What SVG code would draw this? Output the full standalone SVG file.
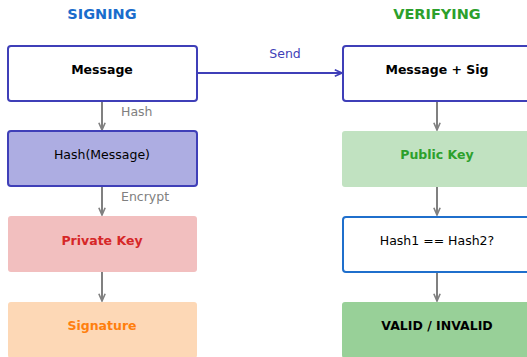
<svg xmlns="http://www.w3.org/2000/svg" width="527" height="357" viewBox="0 0 527 357">
  <defs>
    <style>
      text { font-family: "DejaVu Sans", sans-serif; text-anchor: middle; dominant-baseline: central; }
      .title { font-size: 14.5px; font-weight: bold; }
      .lbl { font-size: 12.5px; }
      .b { font-weight: bold; }
      .edge { fill: none; stroke: #808080; stroke-width: 2; }
      .send { fill: none; stroke: #3f3fb8; stroke-width: 2; }
      .note { font-size: 12.5px; fill: #808080; text-anchor: start; }
    </style>
    <marker id="ah" viewBox="0 0 10 10" refX="9" refY="5" markerWidth="9" markerHeight="9" markerUnits="userSpaceOnUse" orient="auto">
      <path d="M1,1.5 L9,5 L1,8.5" fill="none" stroke="#808080" stroke-width="1.8"/>
    </marker>
    <marker id="ahs" viewBox="0 0 10 10" refX="9" refY="5" markerWidth="9" markerHeight="9" markerUnits="userSpaceOnUse" orient="auto">
      <path d="M1,1.5 L9,5 L1,8.5" fill="none" stroke="#3f3fb8" stroke-width="1.8"/>
    </marker>
  </defs>

  <rect width="527" height="357" fill="#ffffff"/>

  <text class="title" x="102" y="14" fill="#1a6ccc">SIGNING</text>
  <text class="title" x="437" y="14" fill="#2ca02c">VERIFYING</text>

  <g id="connectors">
    <line class="edge" x1="102" y1="101" x2="102" y2="130" marker-end="url(#ah)"/>
    <line class="edge" x1="102" y1="186" x2="102" y2="215" marker-end="url(#ah)"/>
    <line class="edge" x1="102" y1="272" x2="102" y2="301" marker-end="url(#ah)"/>
    <line class="edge" x1="437" y1="101" x2="437" y2="130" marker-end="url(#ah)"/>
    <line class="edge" x1="437" y1="186" x2="437" y2="215" marker-end="url(#ah)"/>
    <line class="edge" x1="437" y1="272" x2="437" y2="301" marker-end="url(#ah)"/>
    <line class="send" x1="197" y1="73" x2="342" y2="73" marker-end="url(#ahs)"/>
    <text class="note" x="121" y="111">Hash</text>
    <text class="note" x="121" y="196">Encrypt</text>
    <text class="lbl" x="285" y="53" fill="#3f3fb8">Send</text>
  </g>

  <g id="message">
    <rect x="8" y="46" width="189" height="55" rx="3" fill="#ffffff" stroke="#3f3fb8" stroke-width="2"/>
    <text class="lbl b" x="102" y="69" fill="#000">Message</text>
  </g>
  <g id="hash">
    <rect x="8" y="131" width="189" height="55" rx="3" fill="#adade2" stroke="#3f3fb8" stroke-width="2"/>
    <text class="lbl" x="102" y="154" fill="#000">Hash(Message)</text>
  </g>
  <g id="private-key">
    <rect x="8" y="216" width="189" height="56" rx="3" fill="#f2bfbf"/>
    <text class="lbl b" x="102" y="240" fill="#d62728">Private Key</text>
  </g>
  <g id="signature">
    <rect x="8" y="302" width="189" height="56" rx="3" fill="#fdd8b6"/>
    <text class="lbl b" x="102" y="325" fill="#ff7f0e">Signature</text>
  </g>

  <g id="message-sig">
    <rect x="343" y="46" width="189" height="55" rx="3" fill="#ffffff" stroke="#3f3fb8" stroke-width="2"/>
    <text class="lbl b" x="437" y="69" fill="#000">Message + Sig</text>
  </g>
  <g id="public-key">
    <rect x="342" y="131" width="190" height="56" rx="3" fill="#c1e2c1"/>
    <text class="lbl b" x="437" y="154" fill="#2ca02c">Public Key</text>
  </g>
  <g id="compare">
    <rect x="343" y="217" width="189" height="55" rx="3" fill="#ffffff" stroke="#1f6fcc" stroke-width="2"/>
    <text class="lbl" x="437" y="240" fill="#000">Hash1 == Hash2?</text>
  </g>
  <g id="result">
    <rect x="342" y="302" width="190" height="56" rx="3" fill="#98d098"/>
    <text class="lbl b" x="437" y="325" fill="#000">VALID / INVALID</text>
  </g>
</svg>
